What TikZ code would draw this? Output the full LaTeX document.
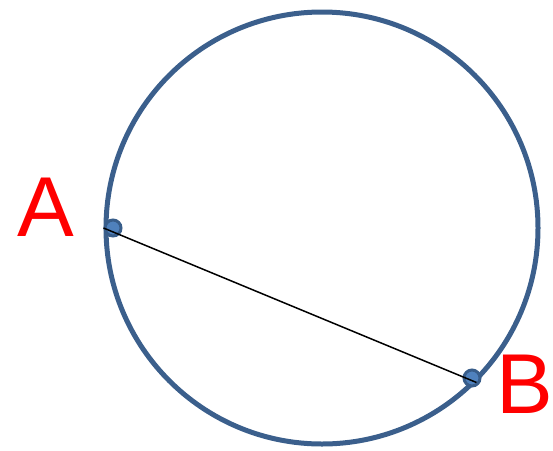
\documentclass[tikz,border=0pt]{standalone}
\usepackage{fontspec}
\setmainfont{Liberation Sans}
\usetikzlibrary{positioning,calc}
\definecolor{ringblue}{HTML}{3B5F8C}
\definecolor{dotfill}{HTML}{4F81BD}
\definecolor{dotline}{HTML}{385D8A}

\begin{document}
\begin{tikzpicture}[
  x=1pt,y=-1pt,
  ring/.style={draw=ringblue,line width=5pt,circle,minimum size=432pt,inner sep=0pt},
  pt/.style={fill=dotfill,draw=dotline,line width=3pt,circle,minimum size=16pt,inner sep=0pt},
  lbl/.style={text=red,font=\fontsize{85}{85}\selectfont,inner sep=0pt,anchor=base},
]
\useasboundingbox (0,0) rectangle (553,450);

% circle
\node[ring] (c) at (322,228) {};

% points on the circle
\coordinate (a) at (c.west);
\coordinate (b) at (c.-45);
\node[pt] (da) at (113,228) {};
\node[pt] (db) at (472,378) {};

% chord
\draw[line width=1.5pt] (a) -- (b);

% labels
\node[lbl] (la) at (46,236) {A};
\node[lbl] (lb) at (525,413) {B};

\end{tikzpicture}
\end{document}
